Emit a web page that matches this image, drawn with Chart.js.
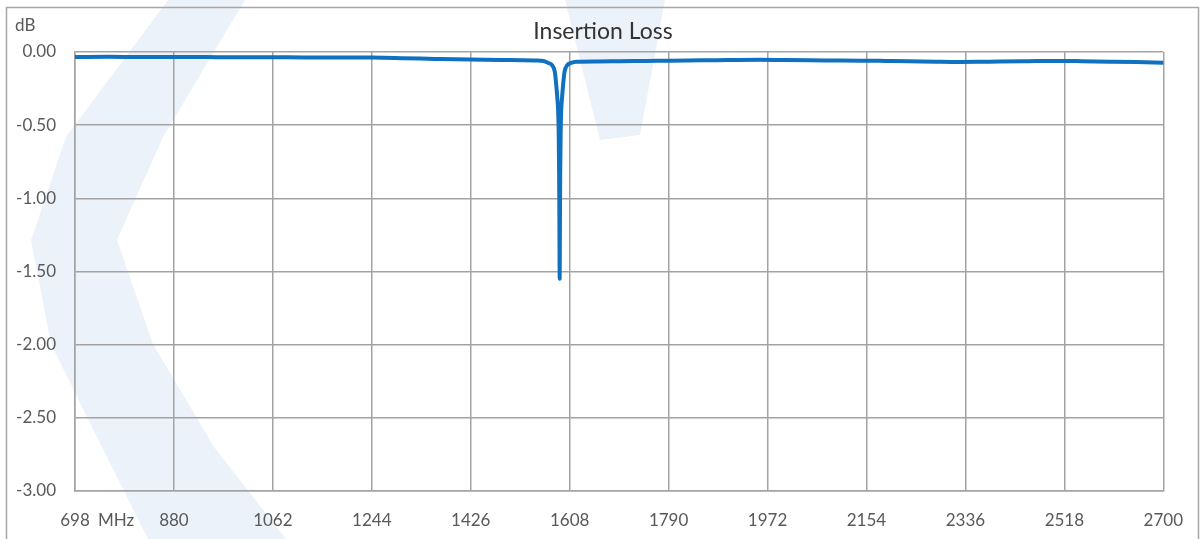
<!DOCTYPE html>
<html>
<head>
<meta charset="utf-8">
<title>Insertion Loss</title>
<script src="https://cdn.jsdelivr.net/npm/chart.js@4.4.1/dist/chart.umd.min.js"></script>
<style>
  html, body { margin: 0; padding: 0; background: #fff; }
  #wrap { width: 1202px; height: 539px; position: relative; overflow: hidden; }
</style>
</head>
<body>
<div id="wrap"><canvas id="lossChart" width="1202" height="539"></canvas></div>
<script>
const freqMHz = [
  698, 760, 820, 880, 940, 1000, 1062, 1120, 1180, 1244,
  1300, 1360, 1426, 1480, 1520, 1545, 1560, 1568.6, 1575.6, 1580.9,
  1584.1, 1585.6, 1586.8, 1587.8, 1588.6, 1589.1, 1589.6, 1590.1, 1590.6, 1591.4,
  1592.4, 1593.6, 1595.1, 1598.3, 1603.6, 1610.6,
  1620, 1660, 1700, 1750, 1792, 1850, 1900, 1957, 2000, 2049,
  2100, 2141, 2190, 2233, 2280, 2325, 2360, 2398, 2450, 2509,
  2550, 2601, 2650, 2700
];
const lossDb = [
  -0.034, -0.033, -0.035, -0.034, -0.035, -0.036, -0.036, -0.037, -0.037, -0.038,
  -0.042, -0.047, -0.052, -0.055, -0.056, -0.058, -0.062, -0.075, -0.090, -0.140,
  -0.260, -0.330, -0.400, -0.550, -0.830, -1.150, -1.550, -1.150, -0.830, -0.550,
  -0.400, -0.330, -0.260, -0.140, -0.090, -0.075,
  -0.067, -0.065, -0.063, -0.061, -0.059, -0.057, -0.055, -0.053, -0.055, -0.057,
  -0.058, -0.059, -0.061, -0.063, -0.066, -0.068, -0.067, -0.065, -0.063, -0.061,
  -0.063, -0.066, -0.069, -0.073
];
const xTicks = [698, 880, 1062, 1244, 1426, 1608, 1790, 1972, 2154, 2336, 2518, 2700];
const yTicks = [0, -0.5, -1, -1.5, -2, -2.5, -3];
const chartTitle = 'Insertion Loss';
const xUnit = 'MHz';
const yUnit = 'dB';

const tickFont = { family: 'Lato', size: 17 };
const tickColor = '#595959';
const gridColor = '#a3a3a3';
const xTickPad = 19;

// faint logo in the back, frame, title and unit labels
const extras = {
  id: 'extras',
  beforeDraw(chart) {
    const ctx = chart.ctx;
    ctx.save();
    ctx.fillStyle = '#ecf2f9';
    const shapes = [
      [[168, 0], [245, 0], [163, 137], [117, 240], [153, 344], [214, 447], [286, 539],
       [148, 539], [102, 447], [51, 344], [31, 240], [66, 137]],
      [[565, 0], [665, 0], [640, 135], [600, 140]]
    ];
    shapes.forEach(pts => {
      ctx.beginPath();
      pts.forEach((p, i) => i ? ctx.lineTo(p[0], p[1]) : ctx.moveTo(p[0], p[1]));
      ctx.closePath();
      ctx.fill();
    });
    ctx.restore();
  },
  afterDraw(chart) {
    const ctx = chart.ctx;
    const xs = chart.scales.x;
    ctx.save();
    ctx.strokeStyle = '#a6a6a6';
    ctx.lineWidth = 1.5;
    ctx.strokeRect(6.5, 7.5, 1192, 600);

    ctx.textBaseline = 'middle';
    ctx.textAlign = 'center';
    ctx.fillStyle = '#333333';
    ctx.font = '23px Lato';
    ctx.fillText(chartTitle, 603, 32);

    ctx.font = '17px Lato';
    ctx.fillStyle = tickColor;
    ctx.textAlign = 'left';
    ctx.fillText(yUnit, 15, 26);
    const labelY = xs.top + xTickPad + 17 * 1.2 / 2;
    ctx.fillText(xUnit, xs.getPixelForValue(xTicks[0]) + 23, labelY);
    ctx.restore();
  }
};

new Chart(document.getElementById('lossChart'), {
  type: 'line',
  data: {
    datasets: [{
      label: chartTitle,
      data: freqMHz.map((f, i) => ({ x: f, y: lossDb[i] })),
      borderColor: '#0f71bf',
      borderWidth: 4,
      pointRadius: 0,
      cubicInterpolationMode: 'monotone',
      borderCapStyle: 'round',
      borderJoinStyle: 'round',
      fill: false
    }]
  },
  options: {
    responsive: false,
    animation: false,
    layout: { padding: { left: 0, right: 37, top: 52, bottom: 0 } },
    plugins: {
      legend: { display: false },
      tooltip: { enabled: false },
      title: { display: false }
    },
    scales: {
      x: {
        type: 'linear',
        min: 698,
        max: 2700,
        afterBuildTicks: axis => { axis.ticks = xTicks.map(v => ({ value: v })); },
        afterFit: axis => { axis.height = 48; },
        grid: { color: gridColor, lineWidth: 1.5, drawTicks: false },
        border: { color: gridColor, width: 1.5 },
        ticks: {
          font: tickFont,
          color: tickColor,
          padding: xTickPad,
          maxRotation: 0,
          autoSkip: false,
          callback: v => String(v)
        }
      },
      y: {
        min: -3,
        max: 0,
        afterBuildTicks: axis => { axis.ticks = yTicks.map(v => ({ value: v })); },
        afterFit: axis => { axis.width = 75; },
        grid: { color: gridColor, lineWidth: 1.5, drawTicks: false },
        border: { color: gridColor, width: 1.5 },
        ticks: {
          font: tickFont,
          color: tickColor,
          padding: 19,
          callback: v => Number(v).toFixed(2)
        }
      }
    }
  },
  plugins: [extras]
});
</script>
</body>
</html>
